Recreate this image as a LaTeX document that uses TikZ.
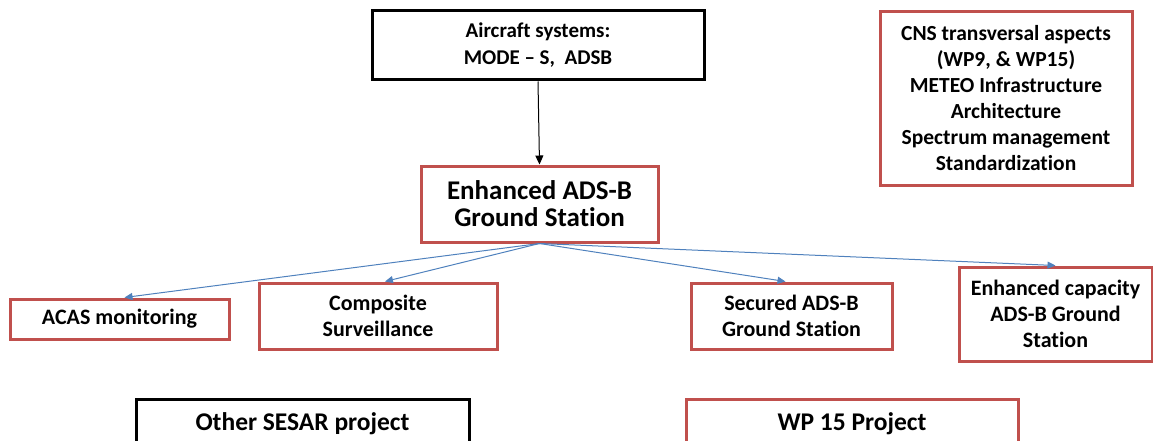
\documentclass[tikz,border=0pt]{standalone}
\usepackage{fontspec}
\setmainfont{Carlito}[Ligatures={TeX,NoCommon}]
\usetikzlibrary{arrows.meta,positioning}
\definecolor{boxred}{RGB}{192,80,77}
\definecolor{linkblue}{RGB}{79,129,189}

\begin{document}
\begin{tikzpicture}[x=1pt,y=-1pt,
  redbox/.style={draw=boxred,line width=3pt,fill=white,align=center,inner sep=0pt,font=\bfseries},
  blackbox/.style={draw=black,line width=3pt,fill=white,align=center,inner sep=0pt,font=\bfseries},
  link/.style={draw=linkblue,line width=1pt,-{Triangle[length=8pt,width=7pt]}}]
  \useasboundingbox (0,0) rectangle (1153,441);
  \clip (0,0) rectangle (1153,441);
  \node[blackbox,minimum width=332pt,minimum height=69pt,font=\bfseries\fontsize{21}{27}\selectfont] (aircraft) at (538,45.5) {Aircraft systems:\\MODE -- S,\ \ ADSB};
  \node[redbox,minimum width=252pt,minimum height=173pt,font=\bfseries\fontsize{21.5}{26}\selectfont] (cns) at (1006,98.5) {CNS transversal aspects\\(WP9, \& WP15)\\METEO Infrastructure\\Architecture\\Spectrum management\\Standardization};
  \node[redbox,minimum width=237pt,minimum height=76pt,font=\bfseries\fontsize{27}{27}\selectfont] (ground) at (539.5,204) {Enhanced ADS-B\\Ground Station};
  \node[redbox,minimum width=219pt,minimum height=40pt,font=\bfseries\fontsize{22}{26}\selectfont] (acas) at (119.5,319) {ACAS monitoring};
  \node[redbox,minimum width=238pt,minimum height=66pt,font=\bfseries\fontsize{22}{26}\selectfont] (composite) at (378,316) {Composite\\Surveillance};
  \node[redbox,minimum width=201pt,minimum height=66pt,font=\bfseries\fontsize{22}{26}\selectfont] (secured) at (791.5,316) {Secured ADS-B\\Ground Station};
  \node[redbox,minimum width=193pt,minimum height=94pt,font=\bfseries\fontsize{22}{26}\selectfont] (capacity) at (1055.5,314) {Enhanced capacity\\ADS-B Ground\\Station};
  \node[blackbox,minimum width=333pt,minimum height=50pt,font=\bfseries\fontsize{25.5}{26}\selectfont] (other) at (302.5,424) {Other SESAR project};
  \node[redbox,minimum width=332pt,minimum height=50pt,font=\bfseries\fontsize{25.5}{26}\selectfont] (wpproj) at (852,424) {WP 15 Project};
  \draw[line width=1pt,-{Triangle[length=9pt,width=8pt]}] (aircraft.south) -- (ground.north);
  \draw[link] (ground.south) -- ([xshift=5pt]acas.north);
  \draw[link] (ground.south) -- ([xshift=7pt]composite.north);
  \draw[link] (ground.south) -- ([xshift=-6pt]secured.north);
  \draw[link] (ground.south) -- (capacity.north);
\end{tikzpicture}
\end{document}
